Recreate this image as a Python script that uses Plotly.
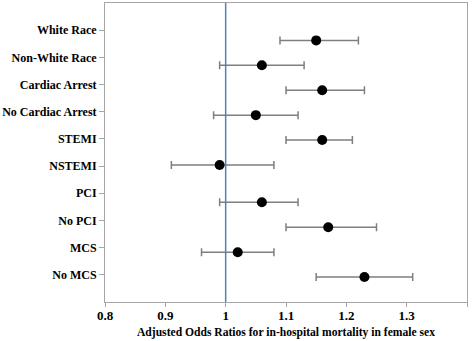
import plotly.graph_objects as go

# Subgroups (top to bottom) and adjusted odds ratios with 95% CI
categories = ["White Race", "Non-White Race", "Cardiac Arrest", "No Cardiac Arrest",
              "STEMI", "NSTEMI", "PCI", "No PCI", "MCS", "No MCS"]
odds_ratio = [1.15, 1.06, 1.16, 1.05, 1.16, 0.99, 1.06, 1.17, 1.02, 1.23]
ci_low = [1.09, 0.99, 1.10, 0.98, 1.10, 0.91, 0.99, 1.10, 0.96, 1.15]
ci_high = [1.22, 1.13, 1.23, 1.12, 1.21, 1.08, 1.12, 1.25, 1.08, 1.31]

# Row slots of the estimate markers on the secondary (hidden) vertical scale
marker_rows = [1.5, 2.5, 3.5, 4.5, 5.5, 6.5, 8, 9, 10, 11]
label_rows = list(range(1, len(categories) + 1))

x_ticks = [0.8, 0.9, 1.0, 1.1, 1.2, 1.3, 1.4]
x_tick_text = ["0.8", "0.9", "1", "1.1", "1.2", "1.3", "1.4"]

FONT = "Liberation Serif"
AXIS_GREY = "#a6a6a6"

fig = go.Figure()

# Invisible anchor trace so the category axis is rendered
fig.add_trace(go.Scatter(
    x=[1.0] * len(label_rows),
    y=label_rows,
    yaxis="y",
    mode="markers",
    marker=dict(opacity=0, size=1),
    showlegend=False,
    hoverinfo="skip",
))

fig.add_trace(go.Scatter(
    x=odds_ratio,
    y=marker_rows,
    yaxis="y2",
    mode="markers",
    marker=dict(color="black", size=10),
    error_x=dict(
        type="data",
        symmetric=False,
        array=[h - o for h, o in zip(ci_high, odds_ratio)],
        arrayminus=[o - l for o, l in zip(odds_ratio, ci_low)],
        color="#7f7f7f",
        thickness=1.5,
        width=4,
    ),
    showlegend=False,
    hoverinfo="skip",
))

# Reference line at OR = 1
fig.add_shape(type="line", xref="x", yref="paper", x0=1.0, x1=1.0, y0=0, y1=1,
              line=dict(color="#4f81bd", width=1.5))

fig.update_layout(
    width=474,
    height=341,
    margin=dict(l=102, r=7, t=2, b=39),
    paper_bgcolor="white",
    plot_bgcolor="white",
    font=dict(family=FONT, size=12, color="black"),
    xaxis=dict(
        range=[0.8, 1.4],
        tickvals=x_ticks,
        ticktext=["<b>%s</b>" % t for t in x_tick_text],
        tickfont=dict(family=FONT, size=13, color="black"),
        ticklabelstandoff=-3,
        showgrid=False,
        zeroline=False,
        showline=True,
        linecolor=AXIS_GREY,
        linewidth=1,
        mirror=True,
        ticks="outside",
        ticklen=4,
        tickcolor=AXIS_GREY,
        title=dict(
            text="<b>Adjusted Odds Ratios for in-hospital mortality in female sex</b>",
            font=dict(family=FONT, size=11.6, color="black"),
            standoff=6,
        ),
    ),
    yaxis=dict(
        range=[11, 0],
        tickvals=label_rows,
        ticktext=["<b>%s</b>" % c for c in categories],
        tickfont=dict(family=FONT, size=12, color="black"),
        showgrid=False,
        zeroline=False,
        showline=True,
        linecolor=AXIS_GREY,
        linewidth=1,
        mirror=True,
        ticks="outside",
        ticklen=5,
        tickcolor=AXIS_GREY,
    ),
    yaxis2=dict(
        range=[12, 0],
        overlaying="y",
        side="right",
        visible=False,
        showgrid=False,
        zeroline=False,
    ),
)

fig.write_html("out.html")
